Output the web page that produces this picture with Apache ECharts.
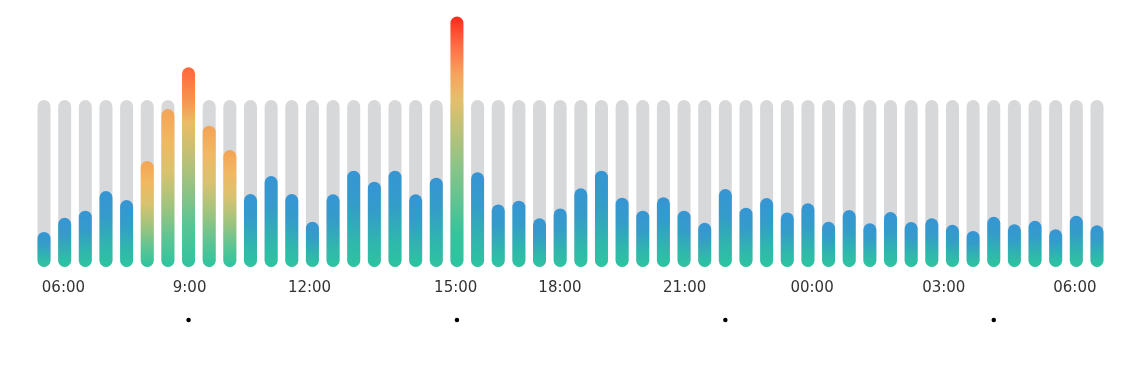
<!DOCTYPE html>
<html>
<head>
<meta charset="utf-8">
<script src="https://cdn.jsdelivr.net/npm/echarts@6/dist/echarts.min.js"></script>
<style>
html,body{margin:0;padding:0;background:#fff;}
#c{width:1139px;height:366px;}
</style>
</head>
<body>
<div id="c"></div>
<script>
const categories = ['05:30','06:00','06:30','07:00','07:30','08:00','08:30','09:00','09:30','10:00','10:30','11:00','11:30','12:00','12:30','13:00','13:30','14:00','14:30','15:00','15:30','16:00','16:30','17:00','17:30','18:00','18:30','19:00','19:30','20:00','20:30','21:00','21:30','22:00','22:30','23:00','23:30','00:00','00:30','01:00','01:30','02:00','02:30','03:00','03:30','04:00','04:30','05:00','05:30','06:00','06:30','07:00'];
const values = [21, 29.5, 33.7, 45.5, 40.1, 63.5, 94.6, 119.6, 84.6, 70, 43.7, 54.5, 43.7, 27.1, 43.5, 57.7, 51.1, 57.7, 43.5, 53.5, 150, 56.7, 37.5, 39.7, 29.2, 35.1, 47.1, 57.7, 41.5, 33.7, 41.7, 33.7, 26.5, 46.7, 35.5, 41.3, 32.7, 38.1, 27.1, 34.1, 26.2, 32.9, 26.9, 29.2, 25.3, 21.6, 30.1, 25.6, 27.7, 22.6, 30.7, 25];
const capacity = [100,100,100,100,100,100,100,100,100,100,100,100,100,100,100,100,100,100,100,100,100,100,100,100,100,100,100,100,100,100,100,100,100,100,100,100,100,100,100,100,100,100,100,100,100,100,100,100,100,100,100,100];
const tickLabels = ['06:00','9:00','12:00','15:00','18:00','21:00','00:00','03:00','06:00'];
const tickPositions = [0.94, 7.05, 12.86, 19.94, 24.99, 31.03, 37.2, 43.58, 49.93];
const dotIndices = [7, 20, 33, 46];

const G = echarts.graphic.LinearGradient;
function barColor(v) {
  if (v >= 140) {
    return new G(0,0,0,1,[
      {offset:0,color:'#ff291b'},{offset:0.11,color:'#ff6a42'},{offset:0.23,color:'#f7a35c'},
      {offset:0.33,color:'#e5bf6b'},{offset:0.59,color:'#8ec487'},{offset:0.87,color:'#36c39c'},{offset:1,color:'#2dc4a0'}]);
  }
  if (v > 100) {
    return new G(0,0,0,1,[
      {offset:0,color:'#ff673c'},{offset:0.16,color:'#f6924f'},{offset:0.28,color:'#ecbc68'},
      {offset:0.53,color:'#a8c27c'},{offset:0.78,color:'#5cc494'},{offset:1,color:'#2dc4a0'}]);
  }
  if (v > 60) {
    return new G(0,0,0,1,[
      {offset:0,color:'#f4a355'},{offset:0.2,color:'#f1b862'},{offset:0.4,color:'#d9c270'},
      {offset:0.62,color:'#9ec47e'},{offset:0.83,color:'#5ac494'},{offset:1,color:'#2dc4a0'}]);
  }
  return new G(0,0,0,1,[
    {offset:0,color:'#3695d4'},{offset:0.35,color:'#349cc9'},{offset:0.75,color:'#2fb8ab'},{offset:1,color:'#2dc4a0'}]);
}

const chart = echarts.init(document.getElementById('c'), null, {renderer:'canvas'});
chart.setOption({
  animation: false,
  backgroundColor: '#ffffff',
  grid: [
    {left: 33.7, right: 31.7, top: 16.5, bottom: 99, containLabel: false},
    {left: 33.7, right: 31.7, top: 310, height: 20, containLabel: false}
  ],
  xAxis: [
    {type:'category', gridIndex:0, data: categories, show:false},
    {type:'value', gridIndex:0, min:-0.5, max: categories.length - 0.5, position:'bottom',
      axisLine:{show:false}, axisTick:{show:false}, splitLine:{show:false},
      axisLabel:{
        customValues: tickPositions,
        margin: 14,
        fontFamily: 'DejaVu Sans',
        fontSize: 15,
        color: '#333333',
        formatter: function (val) {
          let best = 0, d = Infinity;
          tickPositions.forEach(function (p, i) { if (Math.abs(p - val) < d) { d = Math.abs(p - val); best = i; } });
          return tickLabels[best];
        }
      }
    },
    {type:'category', gridIndex:1, data: categories, show:false}
  ],
  yAxis: [
    {type:'value', gridIndex:0, min:0, max:150, show:false},
    {type:'value', gridIndex:1, min:-1, max:1, show:false}
  ],
  series: [
    {
      type:'bar', xAxisIndex:0, yAxisIndex:0, data: capacity,
      barWidth: 13, barGap: '-100%', silent: true, z: 1,
      itemStyle: {color:'#d7d8da', borderRadius: 6.5}
    },
    {
      type:'bar', xAxisIndex:0, yAxisIndex:0,
      data: values.map(function (v) { return {value: v, itemStyle: {color: barColor(v)}}; }),
      barWidth: 13, barGap: '-100%', z: 2,
      itemStyle: {borderRadius: 6.5}
    },
    {
      type:'scatter', xAxisIndex:2, yAxisIndex:1,
      data: dotIndices.map(function (i) { return [i, 0]; }),
      symbol:'circle', symbolSize: 4.5, itemStyle:{color:'#000000', opacity: 1}, silent:true
    }
  ]
});
</script>
</body>
</html>
